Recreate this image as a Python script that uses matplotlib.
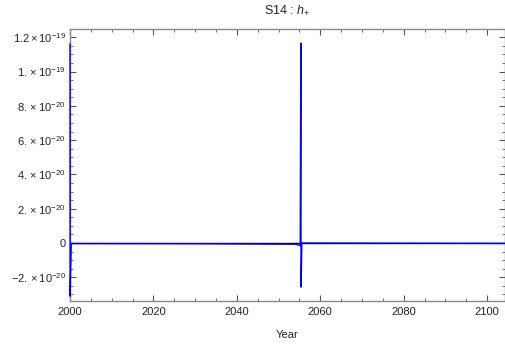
import matplotlib
matplotlib.use("Agg")
import matplotlib.pyplot as plt
from matplotlib.ticker import MultipleLocator, FixedLocator

plt.rcParams['font.family'] = ['Liberation Sans', 'DejaVu Sans']
plt.rcParams['mathtext.fontset'] = 'custom'
plt.rcParams['mathtext.rm'] = 'Liberation Sans'
plt.rcParams['mathtext.it'] = 'Liberation Sans:italic'

# data
years = [2000.0, 2000.03, 2000.3, 2030.0, 2054.0, 2055.2, 2055.35, 2055.4, 2055.6, 2104.3]
h_plus = [1.16e-19, -3.1e-20, -0.3e-21, -0.4e-21, -0.7e-21, -1.5e-21, 1.166e-19, -2.57e-20, 0.0, -0.2e-21]

ytick_vals = [-2e-20, 0, 2e-20, 4e-20, 6e-20, 8e-20, 1e-19, 1.2e-19]
ytick_labels = [r"$-2.\times10^{-20}$", "0", r"$2.\times10^{-20}$", r"$4.\times10^{-20}$",
                r"$6.\times10^{-20}$", r"$8.\times10^{-20}$", r"$1.\times10^{-19}$",
                r"$1.2\times10^{-19}$"]
xtick_vals = [2000, 2020, 2040, 2060, 2080, 2100]

fig = plt.figure(figsize=(5.06, 3.47), dpi=100)
ax = fig.add_axes([70/506, 1-301/347, 435/506, 272/347])

ax.axhline(0, color='black', lw=1.0, zorder=1)
ax.plot(years, h_plus, color='#0000ff', lw=1.0, zorder=3, clip_on=False)

ax.set_xlim(2000, 2104.3)
ax.set_ylim(-3.38e-20, 1.248e-19)

ax.xaxis.set_major_locator(FixedLocator(xtick_vals))
ax.xaxis.set_minor_locator(MultipleLocator(5))
ax.yaxis.set_major_locator(FixedLocator(ytick_vals))
ax.yaxis.set_minor_locator(MultipleLocator(0.5e-20))
ax.set_yticklabels(ytick_labels)

ax.tick_params(which='both', direction='in', top=True, right=True, color='#555555',
               labelsize=8, labelcolor='#222222')
ax.tick_params(which='major', length=4, width=0.8)
ax.tick_params(which='minor', length=2.2, width=0.6)
ax.tick_params(axis='x', pad=4)
ax.tick_params(axis='y', pad=3)
for s in ax.spines.values():
    s.set_color('#888888')
    s.set_linewidth(1.0)

ax.set_title(r"S14 : $h_{+}$", fontsize=9, pad=11, color='#222222')
ax.set_xlabel("Year", fontsize=8, color='#222222', labelpad=10)

fig.savefig("out.png", dpi=100)
